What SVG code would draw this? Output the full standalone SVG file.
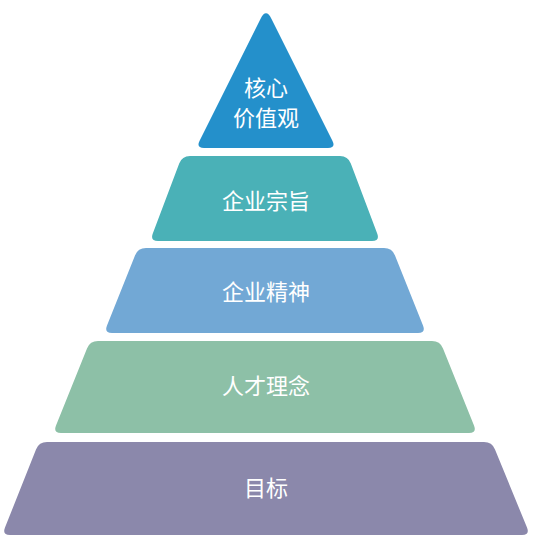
<svg xmlns="http://www.w3.org/2000/svg" width="535" height="540" viewBox="0 0 535 540">
<style>
text{font-family:"Noto Sans CJK SC","Noto Sans",sans-serif;font-size:22px;fill:#ffffff;text-anchor:middle}
</style>
<rect width="535" height="540" fill="#ffffff"/>
<g id="level1">
<path d="M 260.6,18.7 Q 266,8 271.4,18.7 L 332.4,140.8 Q 336,148 328,148 L 204,148 Q 196,148 199.6,140.8 Z" fill="#2490CB"/>
<text x="266" y="96">核心</text>
<text x="266" y="126">价值观</text>
</g>
<g id="level2">
<path d="M 190,156 L 340,156 Q 348,156 350.8,163.5 L 377.2,233.5 Q 380,241 372,241 L 158,241 Q 150,241 152.8,233.5 L 179.2,163.5 Q 182,156 190,156 Z" fill="#4AB1B7"/>
<text x="266" y="209">企业宗旨</text>
</g>
<g id="level3">
<path d="M 146,248 L 384,248 Q 392,248 395,255.4 L 423,325.6 Q 426,333 418,333 L 112,333 Q 104,333 107,325.6 L 135,255.4 Q 138,248 146,248 Z" fill="#72A8D5"/>
<text x="266" y="300">企业精神</text>
</g>
<g id="level4">
<path d="M 98,341 L 432,341 Q 440,341 443,348.4 L 474,425.6 Q 477,433 469,433 L 61,433 Q 53,433 56,425.6 L 87,348.4 Q 90,341 98,341 Z" fill="#8DC0A7"/>
<text x="266" y="394">人才理念</text>
</g>
<g id="level5">
<path d="M 47,442 L 484,442 Q 492,442 495,449.4 L 527,527.6 Q 530,535 522,535 L 10,535 Q 2,535 5,527.6 L 36,449.4 Q 39,442 47,442 Z" fill="#8B88AB"/>
<text x="266" y="496">目标</text>
</g>
<g id="connectors"/>
</svg>
